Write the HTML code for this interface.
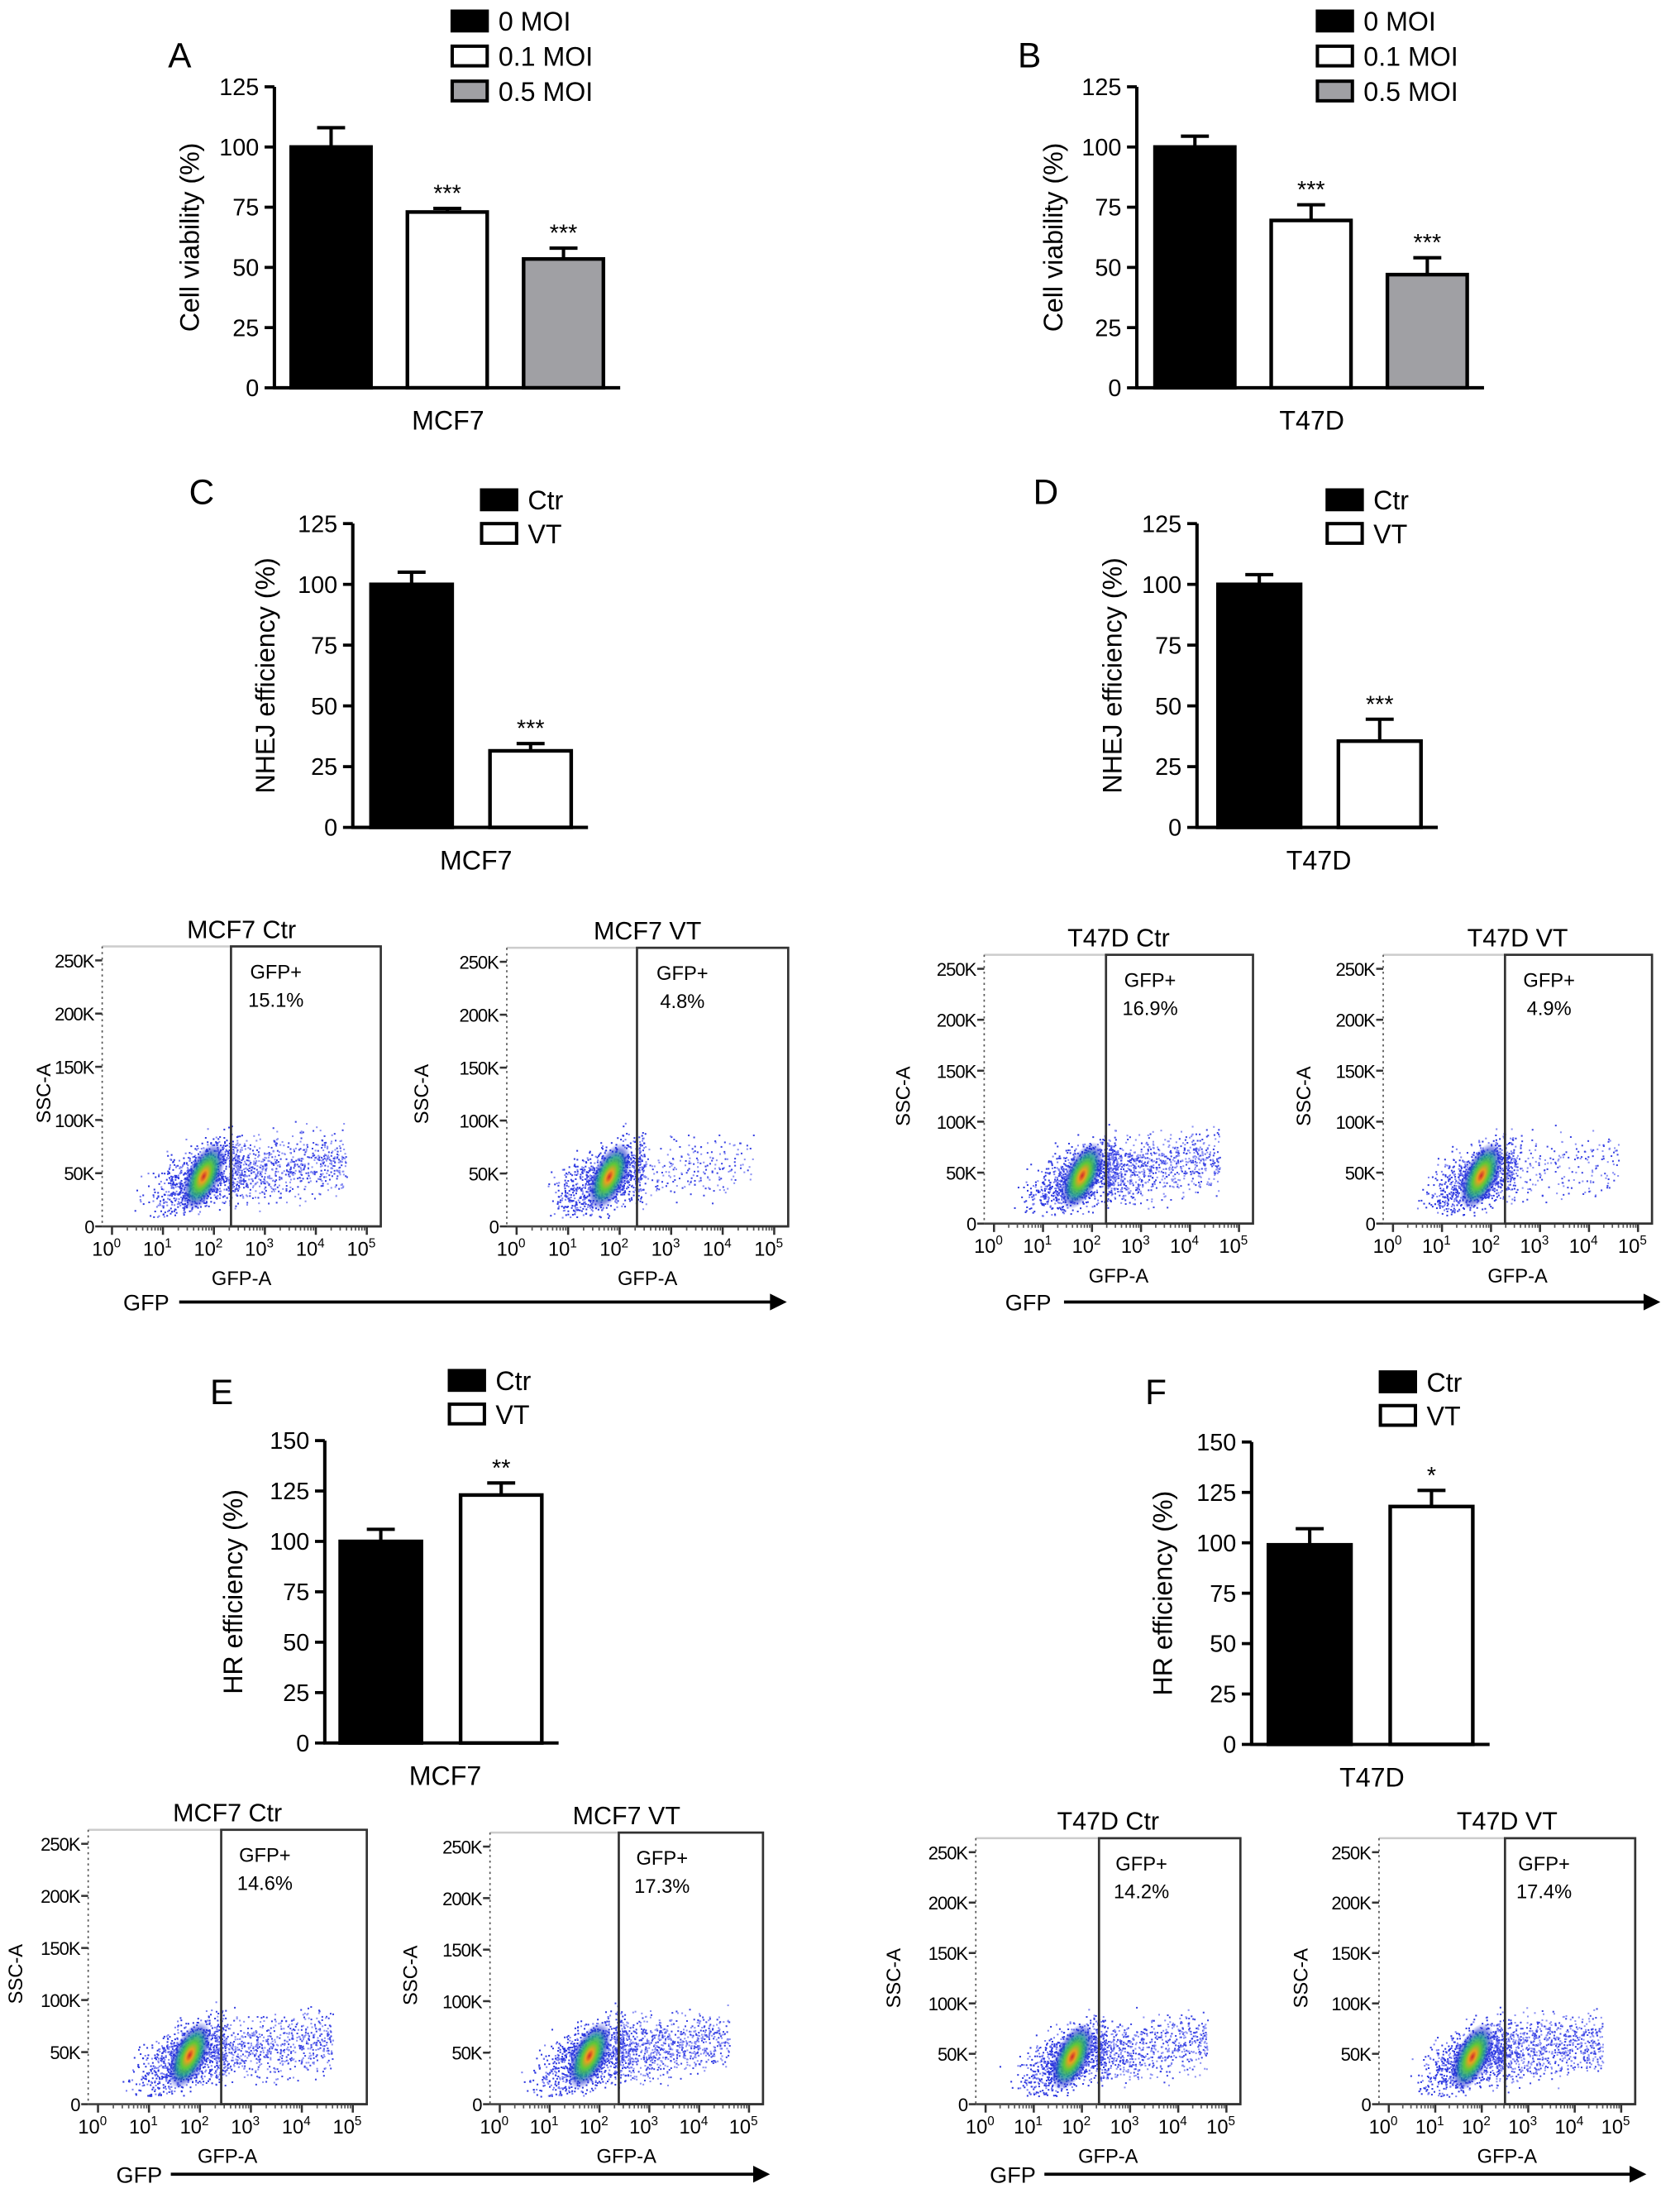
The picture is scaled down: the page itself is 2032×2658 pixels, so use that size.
<!DOCTYPE html>
<html><head><meta charset="utf-8">
<style>
html,body{margin:0;padding:0;background:#fff;}
svg{display:block;font-family:"Liberation Sans",Arial,sans-serif;}
</style></head>
<body>
<svg id="fig" xmlns="http://www.w3.org/2000/svg" width="2032" height="2658" viewBox="0 0 1200 1570" preserveAspectRatio="none">
<defs>
<radialGradient id="core" cx="50%" cy="50%" r="50%">
<stop offset="0" stop-color="#d2282a"/>
<stop offset="0.18" stop-color="#e8a020"/>
<stop offset="0.38" stop-color="#5cc83a"/>
<stop offset="0.6" stop-color="#1e9a90" stop-opacity="0.85"/>
<stop offset="0.8" stop-color="#2030d0" stop-opacity="0.55"/>
<stop offset="1" stop-color="#3040e0" stop-opacity="0"/>
</radialGradient>
</defs>
<g id="root"></g>
</svg>
<script>
// ---- bar chart data ----
const catsA = ["0 MOI","0.1 MOI","0.5 MOI"];
const valsA = [100, 73, 53.5];
const errA  = [8, 1.5, 4.5];
const sigA  = ["", "***", "***"];
const valsB = [100, 69.5, 47];
const errB  = [4.5, 6.5, 7];
const sigB  = ["", "***", "***"];
const catsC = ["Ctr","VT"];
const valsC = [100, 31.5];
const errC  = [5, 3];
const sigC  = ["", "***"];
const valsD = [100, 35.5];
const errD  = [4, 9];
const sigD  = ["", "***"];
const valsE = [100, 123];
const errE  = [6, 6];
const sigE  = ["", "**"];
const valsF = [99, 118];
const errF  = [8, 8];
const sigF  = ["", "*"];
const ticks125 = [0,25,50,75,100,125];
const ticks150 = [0,25,50,75,100,125,150];
// ---- flow data ----
const flowTitles = ["MCF7 Ctr","MCF7 VT","T47D Ctr","T47D VT","MCF7 Ctr","MCF7 VT","T47D Ctr","T47D VT"];
const flowPct = [15.1, 4.8, 16.9, 4.9, 14.6, 17.3, 14.2, 17.4];
const sscTicks = [0,50,100,150,200,250];
const gfpDecades = [0,1,2,3,4,5];

const NS="http://www.w3.org/2000/svg";
const root=document.getElementById('root');
function el(tag,attrs,parent,text){
  const e=document.createElementNS(NS,tag);
  for(const k in attrs) e.setAttribute(k,attrs[k]);
  if(text!==undefined) e.textContent=text;
  (parent||root).appendChild(e);
  return e;
}
const fills=["#000","#fff","#a0a0a4"];

function barChart(o){
  const g=el('g',{});
  
  
  const yS=v=>o.y0-(v/o.max)*(o.y0-o.yTop);
  const ax=el('line',{x1:o.ax,y1:o.yTop,x2:o.ax,y2:o.y0,stroke:'#000','stroke-width':2.4},g);
  
  
  o.ticks.forEach(t=>{
    el('line',{x1:o.ax-7,y1:yS(t),x2:o.ax,y2:yS(t),stroke:'#000','stroke-width':2.2},g);
    const tl=el('text',{x:o.ax-11,y:yS(t)+6,'text-anchor':'end','font-size':17},g,String(t));
    
    
  });
  const right=o.bx+(o.vals.length-1)*o.step+o.bw+12;
  const xa=el('line',{x1:o.ax-1,y1:o.y0,x2:right,y2:o.y0,stroke:'#000','stroke-width':2.4},g);
  
  
  o.vals.forEach((v,i)=>{
    const x=o.bx+i*o.step;
    const cx=x+o.bw/2;
    const top=yS(v), et=yS(v+o.err[i]);
    el('line',{x1:cx,y1:top,x2:cx,y2:et,stroke:'#000','stroke-width':2.4},g);
    el('line',{x1:cx-10,y1:et,x2:cx+10,y2:et,stroke:'#000','stroke-width':2.4},g);
    const r=el('rect',{x:x,y:top,width:o.bw,height:o.y0-top,fill:fills[i],stroke:'#000','stroke-width':2.6},g);
    
    
    if(o.sig[i]){
      const s=el('text',{x:cx,y:et-5,'text-anchor':'middle','font-size':17},g,o.sig[i]);
      
      
    }
  });
  const xl=el('text',{x:o.xlx,y:o.y0+30,'text-anchor':'middle','font-size':19},g,o.xlabel);
  
  
  const yl=el('text',{x:0,y:0,'text-anchor':'middle','font-size':19,transform:`translate(${o.ylx},${(o.yTop+o.y0)/2}) rotate(-90)`},g,o.ylabel);
  
  
  const pl=el('text',{x:o.px,y:o.py,'font-size':25},g,o.letter);
  
  
  o.cats.forEach((c,i)=>{
    const ly=o.ly+i*o.lstep;
    el('rect',{x:o.lx,y:ly,width:25,height:14,fill:fills[i],stroke:'#000','stroke-width':2.4},g);
    const lt=el('text',{x:o.lx+33,y:ly+14,'font-size':19},g,c);
    
    
  });
}

barChart({name:'panel-a-chart',letter:'A',px:120,py:48,ax:196,yTop:62,y0:277,max:125,ticks:ticks125,bx:208,step:83,bw:57,vals:valsA,err:errA,sig:sigA,cats:catsA,xlabel:'MCF7',xlx:320,ylabel:'Cell viability (%)',ylx:142,lx:323,ly:8,lstep:25});
barChart({name:'panel-b-chart',letter:'B',px:727,py:48,ax:812,yTop:62,y0:277,max:125,ticks:ticks125,bx:825,step:83,bw:57,vals:valsB,err:errB,sig:sigB,cats:catsA,xlabel:'T47D',xlx:937,ylabel:'Cell viability (%)',ylx:759,lx:941,ly:8,lstep:25});
barChart({name:'panel-c-chart',letter:'C',px:135,py:360,ax:252,yTop:374,y0:591,max:125,ticks:ticks125,bx:265,step:85,bw:58,vals:valsC,err:errC,sig:sigC,cats:catsC,xlabel:'MCF7',xlx:340,ylabel:'NHEJ efficiency (%)',ylx:196,lx:344,ly:350,lstep:24});
barChart({name:'panel-d-chart',letter:'D',px:738,py:360,ax:855,yTop:374,y0:591,max:125,ticks:ticks125,bx:870,step:86,bw:59,vals:valsD,err:errD,sig:sigD,cats:catsC,xlabel:'T47D',xlx:942,ylabel:'NHEJ efficiency (%)',ylx:801,lx:948,ly:350,lstep:24});
barChart({name:'panel-e-chart',letter:'E',px:150,py:1003,ax:232,yTop:1029,y0:1245,max:150,ticks:ticks150,bx:243,step:86,bw:58,vals:valsE,err:errE,sig:sigE,cats:catsC,xlabel:'MCF7',xlx:318,ylabel:'HR efficiency (%)',ylx:173,lx:321,ly:979,lstep:24});
barChart({name:'panel-f-chart',letter:'F',px:818,py:1003,ax:894,yTop:1030,y0:1246,max:150,ticks:ticks150,bx:906,step:87,bw:59,vals:valsF,err:errF,sig:sigF,cats:catsC,xlabel:'T47D',xlx:980,ylabel:'HR efficiency (%)',ylx:837,lx:986,ly:980,lstep:24});

// seeded generator for scatter texture
let seed=12345;
function rnd(){seed=(seed*1103515245+12345)&0x7fffffff;return seed/0x7fffffff;}
function gauss(){return (rnd()+rnd()+rnd()+rnd()-2)*1.73;}

function flow(idx,x0,x1,yTop,yBot,gateX,sscX){
  const g=el('g',{});
  
  
  const yTop0=yTop+10;
  const yS=v=>yBot-(v/250)*(yBot-yTop0);
  const dx0=x0+7, dx1=x1-10;
  const xS=d=>dx0+(d/5)*(dx1-dx0);
  el('line',{x1:x0,y1:yTop,x2:x1,y2:yTop,stroke:'#ccc','stroke-width':1.5},g);
  el('line',{x1:x0,y1:yTop,x2:x0,y2:yBot,stroke:'#555','stroke-width':1,'stroke-dasharray':'1.5,2.5'},g);
  el('line',{x1:x0,y1:yBot,x2:x1,y2:yBot,stroke:'#444','stroke-width':1.6},g);
  const cxD=1.8, cyV=47;
  const negN=1100;
  for(let i=0;i<negN;i++){
    const d=cxD+gauss()*0.5, v=cyV+gauss()*15+(d-cxD)*20;
    if(d<0.05||v<8||v>100||d>2.5) continue;
    el('rect',{x:xS(d),y:yS(v),width:1.2,height:1.2,fill:(i%3?'#2d38e0':'#7a80f2')},g);
  }
  const posN=Math.round(flowPct[idx]*50);
  for(let i=0;i<posN;i++){
    const d=2.3+Math.pow(rnd(),1.3)*2.3, v=55+gauss()*15+(d-3)*5;
    if(v<12||v>100) continue;
    el('rect',{x:xS(d),y:yS(v),width:1.2,height:1.2,fill:(i%2?'#3a44e4':'#8a90f4')},g);
  }
  const cx=xS(cxD), cy=yS(cyV);
  el('ellipse',{cx:cx,cy:cy,rx:12,ry:26,fill:'url(#core)',transform:`rotate(25 ${cx} ${cy})`},g);
  sscTicks.forEach(t=>{
    el('line',{x1:x0-5,y1:yS(t),x2:x0,y2:yS(t),stroke:'#333','stroke-width':1.5},g);
    const tl=el('text',{x:x0-6,y:yS(t)+5,'text-anchor':'end','font-size':13,'letter-spacing':-0.6},g,t===0?'0':t+'K');
    
    
  });
  gfpDecades.forEach(d=>{
    const x=xS(d);
    el('line',{x1:x,y1:yBot,x2:x,y2:yBot+6,stroke:'#333','stroke-width':1.5},g);
    if(d<5){for(let m=2;m<10;m++){const xm=xS(d+Math.log10(m));el('line',{x1:xm,y1:yBot,x2:xm,y2:yBot+3,stroke:'#555','stroke-width':1},g);}}
    const t=el('text',{x:x-4,y:yBot+21,'text-anchor':'middle','font-size':14},g);
    
    
    el('tspan',{},t,'10');
    el('tspan',{dy:-6,'font-size':9},t,String(d));
  });
  const gate=el('rect',{x:gateX,y:yTop,width:x1-gateX,height:yBot-yTop,fill:'none',stroke:'#333','stroke-width':1.6},g);
  
  
  const gx=gateX+(x1-gateX)*0.3;
  el('text',{x:gx,y:yTop+23,'text-anchor':'middle','font-size':14},g,'GFP+');
  const p=el('text',{x:gx,y:yTop+43,'text-anchor':'middle','font-size':14},g,flowPct[idx].toFixed(1)+'%');
  
  
  const ti=el('text',{x:(x0+x1)/2,y:yTop-6,'text-anchor':'middle','font-size':18},g,flowTitles[idx]);
  
  
  const xa=el('text',{x:(x0+x1)/2,y:yBot+42,'text-anchor':'middle','font-size':14},g,'GFP-A');
  
  
  const ya=el('text',{x:0,y:0,'text-anchor':'middle','font-size':14,transform:`translate(${sscX},${yS(125)}) rotate(-90)`},g,'SSC-A');
  
  
}
function gfpArrow(tx,x1,x2,y){
  const g=el('g',{});
  
  
  el('text',{x:tx,y:y+6,'font-size':16},g,'GFP');
  el('line',{x1:x1,y1:y,x2:x2-10,y2:y,stroke:'#000','stroke-width':2.2},g);
  el('polygon',{points:`${x2-12},${y-6} ${x2},${y} ${x2-12},${y+6}`,fill:'#000'},g);
}
flow(0,73,272,676,876,165,36);
flow(1,362,563,677,876,455,306);
flow(2,703,895,682,874,790,650);
flow(3,988,1180,682,874,1075,936);
gfpArrow(88,128,562,930);
gfpArrow(718,760,1186,930);
flow(4,63,262,1307,1503,158,16);
flow(5,350,545,1309,1503,442,298);
flow(6,697,886,1313,1503,785,643);
flow(7,985,1168,1313,1503,1075,934);
gfpArrow(83,122,550,1553);
gfpArrow(707,746,1176,1553);
</script>
</body></html>
